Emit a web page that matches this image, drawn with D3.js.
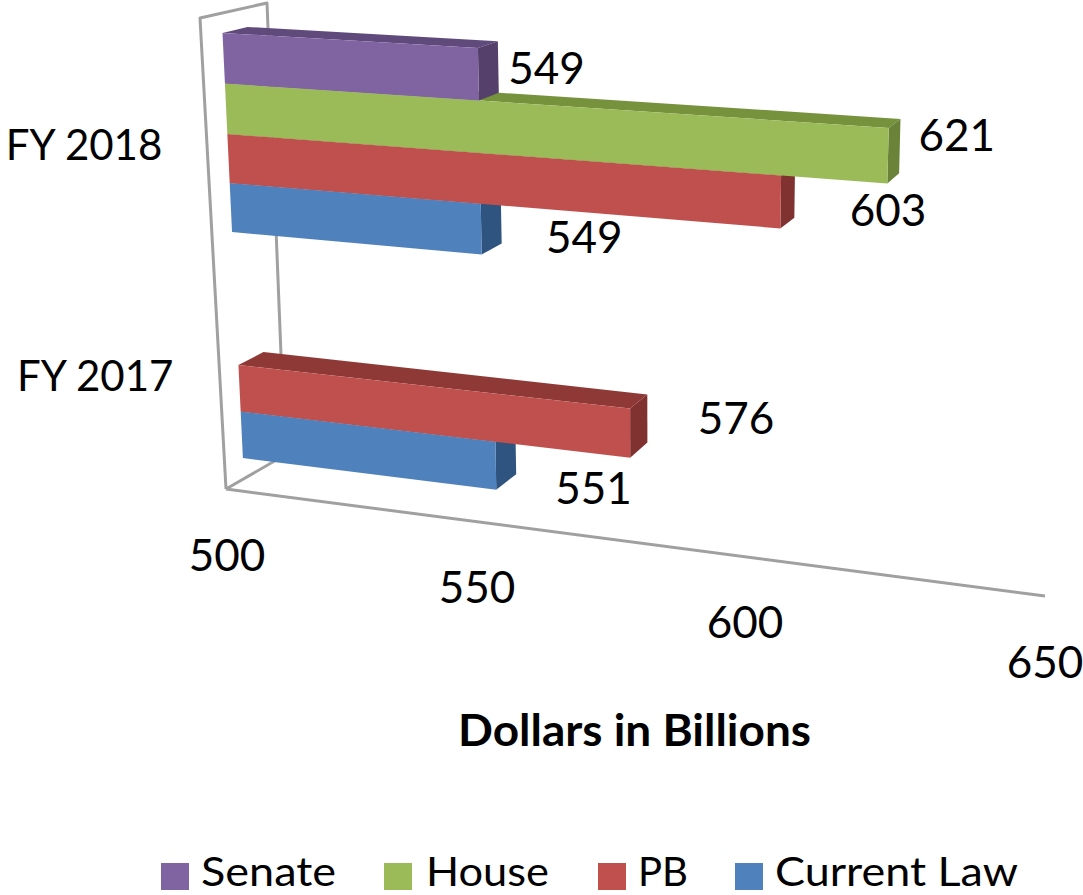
<!DOCTYPE html>
<html>
<head>
<meta charset="utf-8">
<script src="https://d3js.org/d3.v7.min.js"></script>
<style>
  html, body { margin: 0; padding: 0; background: #fff; }
  text { font-family: Lato, "Open Sans", sans-serif; fill: #000; }
</style>
</head>
<body>
<script>
// data
var categories = ["FY 2018", "FY 2017"];
var seriesNames = ["Senate", "House", "PB", "Current Law"];
var senate = [549, null];
var house = [621, null];
var pb = [603, 576];
var currentLaw = [549, 551];
var tickValues = [500, 550, 600, 650];
var frontColors = ["#8064A2", "#9BBB59", "#C0504D", "#4F81BD"];
var topColors = ["#604A7B", "#76923C", "#8F3936", "#3A5F8E"];
var sideColors = ["#54406B", "#6A8339", "#7F3230", "#2F5480"];

const width = 1083, height = 895;
const values = [senate, house, pb, currentLaw];

const svg = d3.select("body").append("svg")
  .attr("width", width)
  .attr("height", height)
  .style("display", "block");

// value axis runs along a perspective plane, so the spacing grows to the right
const xBase = d3.scaleLinear()
  .domain([500, 550, 600, 625, 650])
  .range([0, 248, 516, 658, 822]);
function along(v, y0) {
  return xBase(v) * (1 + 0.00012 * (458 - y0));
}

// bar slots top to bottom, FY 2017 is pushed down by groupGap slots
const groupGap = 4.7;
const yPos = d3.scaleLinear()
  .domain([0, 2, 4, groupGap + 2, groupGap + 4])
  .range([33, 134, 232, 365, 458]);

function frontPoint(v, y0) {
  const x0 = 222.5 + (y0 - 33) * 0.048;
  const u = along(v, y0);
  const slope = 0.059 + (y0 - 33) * 0.000157;
  return [x0 + u, y0 + slope * u];
}
function backPoint(v, y0) {
  const u = along(v, y0);
  const p = frontPoint(v, y0);
  const dx = 25 - 0.02 * u;
  const dy = 6 + 0.021 * (y0 - 33) + 0.003 * u;
  return [p[0] + dx, p[1] - dy];
}

const line = d3.line();
function poly(pts, color, g) {
  g.append("path").attr("d", line(pts) + "Z").attr("fill", color);
}

// walls and floor
const frame = svg.append("g")
  .attr("fill", "none")
  .attr("stroke", "#A0A0A0")
  .attr("stroke-width", 3)
  .attr("stroke-linejoin", "round");
frame.append("path").attr("d", line([[226, 489], [200, 18], [267, 3], [285, 455], [226, 489]]));
frame.append("path").attr("d", line([[226, 489], [1045, 596]]));

// bars, lower ones first so the upper ones sit on top
const bars = svg.append("g");
categories.forEach(function(cat, c) {
  const offset = c === 0 ? 0 : groupGap;
  d3.range(seriesNames.length - 1, -1, -1).forEach(function(s) {
    const v = values[s][c];
    if (v === null) return;
    const yTop = yPos(offset + s), yBot = yPos(offset + s + 1);
    const g = bars.append("g").attr("class", "bar");
    poly([frontPoint(500, yTop), frontPoint(v, yTop), backPoint(v, yTop), backPoint(500, yTop)], topColors[s], g);
    poly([frontPoint(v, yTop), frontPoint(v, yBot), backPoint(v, yBot), backPoint(v, yTop)], sideColors[s], g);
    poly([frontPoint(500, yTop), frontPoint(v, yTop), frontPoint(v, yBot), frontPoint(500, yBot)], frontColors[s], g);
  });
});

const fontSize = 44;

// data labels, nudged from the bar end the way they sit in the chart
const labelNudge = [
  [[68.5, 36], [0, 0]],
  [[68, 23], [0, 0]],
  [[107, 51], [106, 25]],
  [[103.5, 49], [98, 62]]
];
const labels = svg.append("g").attr("font-size", fontSize).attr("text-anchor", "middle");
categories.forEach(function(cat, c) {
  const offset = c === 0 ? 0 : groupGap;
  seriesNames.forEach(function(name, s) {
    const v = values[s][c];
    if (v === null) return;
    const p = frontPoint(v, yPos(offset + s));
    labels.append("text")
      .attr("x", p[0] + labelNudge[s][c][0])
      .attr("y", p[1] + labelNudge[s][c][1])
      .text(v);
  });
});

// value ticks under the floor line
const floorY0 = 489;
const tickNudge = [1, 4, 5, 0];
function floorPoint(v) {
  const u = along(v, floorY0);
  return [226 + u, floorY0 + 0.1306 * u];
}
svg.append("g").attr("font-size", fontSize).attr("text-anchor", "middle")
  .selectAll("text").data(tickValues).enter().append("text")
  .attr("x", function(d, i) { return floorPoint(d)[0] + tickNudge[i]; })
  .attr("y", function(d) { return floorPoint(d)[1] + 82; })
  .text(function(d) { return d; });

// category labels
svg.append("g").attr("font-size", 42).attr("text-anchor", "end")
  .selectAll("text").data(categories).enter().append("text")
  .attr("x", function(d, i) { return 222.5 + (yPos(i * groupGap + 2) - 33) * 0.048 - 65; })
  .attr("y", function(d, i) { return yPos(i * groupGap + 2) + 26; })
  .text(function(d) { return d; });

// axis title
svg.append("text")
  .attr("x", 458).attr("y", 746)
  .attr("font-size", 43)
  .attr("font-weight", 700)
  .attr("textLength", 353)
  .attr("lengthAdjust", "spacingAndGlyphs")
  .text("Dollars in Billions");

// legend
const legendX = [161, 384, 598, 735];
const legendTextX = [40, 42, 40, 40];
const legendTextLen = [135, 123, 50, 243];
const legend = svg.append("g").selectAll("g").data(seriesNames).enter().append("g")
  .attr("transform", function(d, i) { return "translate(" + legendX[i] + ",863)"; });
legend.append("rect").attr("width", 28).attr("height", 27)
  .attr("fill", function(d, i) { return frontColors[i]; });
legend.append("text")
  .attr("x", function(d, i) { return legendTextX[i]; })
  .attr("y", 23)
  .attr("font-size", 41)
  .attr("textLength", function(d, i) { return legendTextLen[i]; })
  .attr("lengthAdjust", "spacingAndGlyphs")
  .text(function(d) { return d; });
</script>
</body>
</html>
